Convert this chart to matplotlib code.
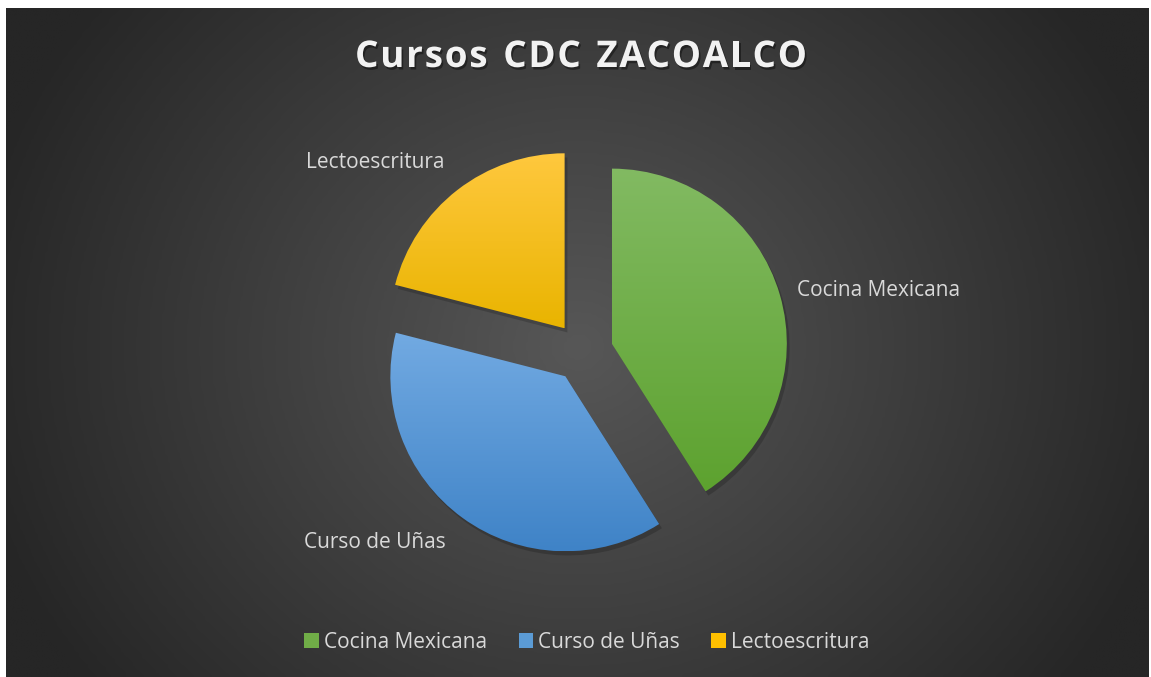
import numpy as np
import matplotlib
matplotlib.use("Agg")
import matplotlib.pyplot as plt
from matplotlib.colors import LinearSegmentedColormap
from matplotlib.patches import Patch
import matplotlib.patheffects as pe

# data
categories = ["Cocina Mexicana", "Curso de Uñas", "Lectoescritura"]
values = [41, 38, 21]
title = "Cursos CDC ZACOALCO"

top_colors = ["#82ba62", "#72aae2", "#ffc83e"]
bottom_colors = ["#5da22f", "#3f83c7", "#e9b400"]
mid_colors = ["#70ad47", "#5b9bd5", "#ffc000"]

W, H = 1151, 677
fig = plt.figure(figsize=(W / 100, H / 100), dpi=100, facecolor="white")
ax = fig.add_axes([0, 0, 1, 1])

# pie (pixel-like data coords, y up)
center = (583, H - 352)
radius = 175
explode = [30] * len(values)
wedges, _ = ax.pie(values, startangle=90, counterclock=False, center=center,
                   radius=radius, explode=explode, frame=True,
                   wedgeprops=dict(linewidth=0, edgecolor="none"))
ax.set_aspect("equal")
ax.axis("off")

# dark radial background
x0, x1, y0, y1 = 6, 1149, 0, 669
xs = np.linspace(x0, x1, 400)
ys = np.linspace(y0, y1, 250)
X, Y = np.meshgrid(xs, ys)
cx, cy = 578, 330
d = np.sqrt(((X - cx) / 620) ** 2 + ((Y - cy) / 560) ** 2)
bg = LinearSegmentedColormap.from_list("bg", ["#575757", "#262626"])
ax.imshow(np.clip(d, 0, 1), cmap=bg, vmin=0, vmax=1, extent=(x0, x1, y0, y1),
          origin="lower", zorder=0, interpolation="bilinear")
ax.set_xlim(0, W)
ax.set_ylim(0, H)

for w, ct, cb in zip(wedges, top_colors, bottom_colors):
    w.set_facecolor("none")
    w.set_zorder(2)
    w.set_path_effects([pe.SimplePatchShadow(offset=(2, -3), shadow_rgbFace="black", alpha=0.18)])
    bb = w.get_path().get_extents(w.get_patch_transform())
    cmap = LinearSegmentedColormap.from_list("g", [cb, ct])
    grad = np.linspace(0, 1, 256).reshape(-1, 1)
    im = ax.imshow(grad, cmap=cmap, extent=(bb.x0, bb.x1, bb.y0, bb.y1),
                   origin="lower", aspect="auto", zorder=3)
    im.set_clip_path(w)

# data labels
lab_font = "Open Sans"
lab_col = "#d9d9d9"
ax.text(797, H - 290, categories[0], color=lab_col, fontsize=15, family=lab_font,
        ha="left", va="center", zorder=5)
ax.text(304, H - 542, categories[1], color=lab_col, fontsize=15, family=lab_font,
        ha="left", va="center", zorder=5)
ax.text(306, H - 163, categories[2], color=lab_col, fontsize=15, family=lab_font,
        ha="left", va="center", zorder=5)

# title with letter spacing
renderer = fig.canvas.get_renderer()
tkw = dict(color="#f2f2f2", fontsize=26.5, fontweight="bold", family=lab_font,
           ha="left", va="center", zorder=5,
           path_effects=[pe.withSimplePatchShadow(offset=(1.2, -1.8), shadow_rgbFace="black", alpha=0.4)])
spacing = 1.8
widths = []
for ch in title:
    t = ax.text(0, 0, ch if ch != " " else "n", **tkw)
    widths.append(t.get_window_extent(renderer).width * (0.5 if ch == " " else 1))
    t.remove()
total = sum(widths) + spacing * (len(title) - 1)
xpos = 581 - total / 2
for ch, wd in zip(title, widths):
    if ch != " ":
        ax.text(xpos, H - 57, ch, **tkw)
    xpos += wd + spacing

# legend
handles = [Patch(facecolor=c, edgecolor="none") for c in mid_colors]
leg = fig.legend(handles, categories, loc="center", bbox_to_anchor=(587 / W, 1 - 642 / H),
                 ncol=3, frameon=False, handlelength=0.7, handleheight=0.7,
                 handletextpad=0.25, columnspacing=1.5,
                 prop=dict(family=lab_font, size=15))
for t in leg.get_texts():
    t.set_color(lab_col)

fig.savefig("out.png", dpi=100, facecolor="white")
